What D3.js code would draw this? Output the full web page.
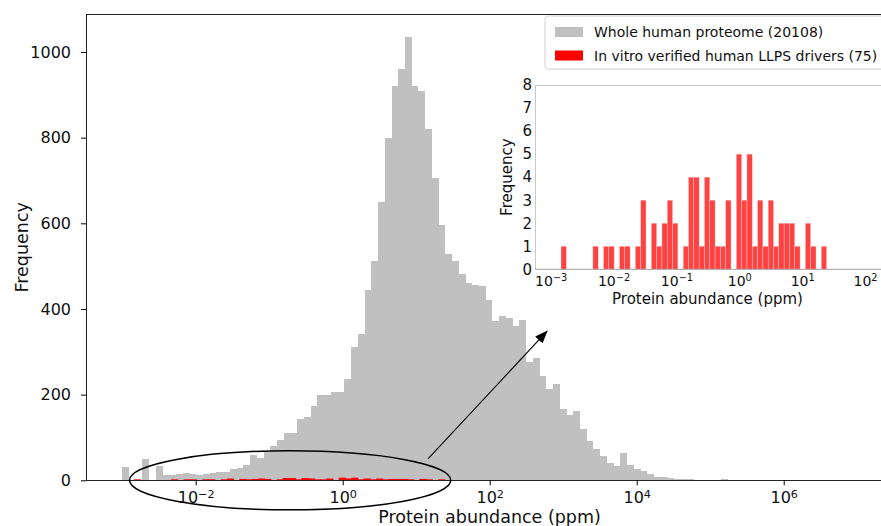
<!DOCTYPE html>
<html>
<head>
<meta charset="utf-8">
<script src="https://cdn.jsdelivr.net/npm/d3@7"></script>
<style>
  body { margin: 0; background: #fff; }
  svg { display: block; font-family: "DejaVu Sans", sans-serif; }
</style>
</head>
<body>
<svg id="chart" width="881" height="526"></svg>
<script>
// Whole proteome histogram: log10 bin start / step and count per bin
const proteomeBinStart = -3.0;
const proteomeBinStep = 0.0916;
const proteomeCounts = [30, 0, 0, 49, 0, 33, 13, 13, 15, 18, 14, 12, 14, 16, 19, 20, 26, 29, 36, 58,
  52, 66, 80, 93, 111, 111, 142, 148, 173, 198, 198, 206, 205, 236, 311, 342, 445, 512, 650, 799,
  920, 961, 1036, 920, 910, 820, 705, 595, 529, 512, 481, 460, 455, 454, 420, 372, 384, 378, 360, 374,
  277, 286, 243, 212, 225, 166, 152, 162, 120, 92, 72, 57, 41, 33, 63, 35, 26, 22, 15, 8,
  8, 5, 4, 2, 2, 1, 1, 1, 0, 2, 0, 0, 1];

// In vitro verified LLPS drivers (75), 50 bins
const llpsBinStart = -2.836;
const llpsBinStep = 0.0845;
const llpsCounts = [1, 0, 0, 0, 0, 0, 1, 0, 1, 1, 0, 1, 1, 0, 1, 3, 0, 2, 1, 2,
  3, 2, 0, 1, 4, 4, 1, 4, 3, 1, 1, 3, 0, 5, 3, 5, 1, 3, 1, 3,
  1, 2, 2, 2, 1, 0, 2, 1, 0, 1];

const mainYTicks = [0, 200, 400, 600, 800, 1000];
const mainXTickExp = [-2, 0, 2, 4, 6];
const insetYTicks = [0, 1, 2, 3, 4, 5, 6, 7, 8];
const insetXTickExp = [-3, -2, -1, 0, 1, 2];
const legendLabels = ['Whole human proteome (20108)', 'In vitro verified human LLPS drivers (75)'];
const colors = { proteome: '#c0c0c0', llps: '#ff0000', llpsInset: '#ff4242' };

// annotation: ellipse around the drivers, arrow to the inset
const ellipseSpan = [-2.9, 1.47];   // log10 abundance
const ellipseHalfHeight = 69;       // frequency units
const arrowFrom = [Math.pow(10, 1.16), 50];
const arrowTo = [Math.pow(10, 2.78), 348];

const toBins = (start, step, counts) => counts.map((n, i) => ({
  x0: Math.pow(10, start + i * step),
  x1: Math.pow(10, start + (i + 1) * step),
  n
}));

const proteomeBins = toBins(proteomeBinStart, proteomeBinStep, proteomeCounts);
const llpsBins = toBins(llpsBinStart, llpsBinStep, llpsCounts);

const svg = d3.select('#chart');
svg.append('rect').attr('width', 881).attr('height', 526).attr('fill', '#fff');

// Main axes
const m = { left: 86, right: 893, top: 14.3, bottom: 480.3 };
const x = d3.scaleLog().domain([Math.pow(10, -3.4925), Math.pow(10, 7.487)]).range([m.left, m.right]);
const y = d3.scaleLinear().domain([0, 1088]).range([m.bottom, m.top]);

function powLabel(sel, e) {
  sel.text(null);
  sel.append('tspan').text('10');
  sel.append('tspan').attr('dy', '-0.48em').attr('font-size', '0.7em')
    .text(e < 0 ? '\u2212' + (-e) : e);
}

const main = svg.append('g');

main.append('g').selectAll('rect')
  .data(proteomeBins.filter(d => d.n > 0))
  .join('rect')
    .attr('x', d => x(d.x0))
    .attr('width', d => x(d.x1) - x(d.x0))
    .attr('y', d => y(d.n))
    .attr('height', d => y(0) - y(d.n))
    .attr('fill', colors.proteome)
    .attr('shape-rendering', 'crispEdges');

main.append('g').selectAll('rect')
  .data(llpsBins.filter(d => d.n > 0))
  .join('rect')
    .attr('x', d => x(d.x0))
    .attr('width', d => x(d.x1) - x(d.x0))
    .attr('y', d => y(d.n))
    .attr('height', d => y(0) - y(d.n))
    .attr('fill', colors.llps)
    .attr('stroke', colors.llps)
    .attr('stroke-width', 1);

// spines
main.append('rect')
  .attr('x', m.left).attr('y', m.top)
  .attr('width', m.right - m.left).attr('height', m.bottom - m.top)
  .attr('fill', 'none').attr('stroke', '#222').attr('stroke-width', 1)
  .attr('shape-rendering', 'crispEdges');

const yAxis = main.append('g')
  .attr('transform', `translate(${m.left},0)`)
  .call(d3.axisLeft(y).tickValues(mainYTicks).tickSize(5).tickPadding(10).tickFormat(d3.format('d')));
yAxis.select('.domain').remove();
yAxis.selectAll('text').attr('font-size', 16).attr('font-family', 'DejaVu Sans').attr('fill', '#111');

const xAxis = main.append('g')
  .attr('transform', `translate(0,${m.bottom})`)
  .call(d3.axisBottom(x).tickValues(mainXTickExp.map(e => Math.pow(10, e))).tickSize(5).tickPadding(3).tickFormat(''));
xAxis.select('.domain').remove();
xAxis.selectAll('.tick text')
  .attr('font-size', 16).attr('font-family', 'DejaVu Sans').attr('fill', '#111')
  .attr('dy', '0.95em')
  .each(function (d) { powLabel(d3.select(this), Math.round(Math.log10(d))); });

main.append('text')
  .attr('x', (m.left + m.right) / 2).attr('y', 523)
  .attr('text-anchor', 'middle').attr('font-size', 17.5).attr('fill', '#111')
  .text('Protein abundance (ppm)');

main.append('text')
  .attr('transform', `translate(28,${(m.top + m.bottom) / 2}) rotate(-90)`)
  .attr('text-anchor', 'middle').attr('font-size', 17.5).attr('fill', '#111')
  .text('Frequency');

// ellipse + arrow
const ex0 = x(Math.pow(10, ellipseSpan[0]));
const ex1 = x(Math.pow(10, ellipseSpan[1]));
main.append('ellipse')
  .attr('cx', (ex0 + ex1) / 2).attr('cy', y(0))
  .attr('rx', (ex1 - ex0) / 2).attr('ry', y(0) - y(ellipseHalfHeight))
  .attr('fill', 'none').attr('stroke', '#000').attr('stroke-width', 1.5);

svg.append('defs').append('marker')
  .attr('id', 'head')
  .attr('viewBox', '0 0 13 10')
  .attr('refX', 12).attr('refY', 5)
  .attr('markerWidth', 13).attr('markerHeight', 10)
  .attr('markerUnits', 'userSpaceOnUse')
  .attr('orient', 'auto')
  .append('path').attr('d', 'M0,0 L13,5 L0,10 Z').attr('fill', '#000');

main.append('line')
  .attr('x1', x(arrowFrom[0])).attr('y1', y(arrowFrom[1]))
  .attr('x2', x(arrowTo[0])).attr('y2', y(arrowTo[1]))
  .attr('stroke', '#000').attr('stroke-width', 1.1)
  .attr('marker-end', 'url(#head)');

// Legend
const legend = svg.append('g');
legend.append('rect')
  .attr('x', 545).attr('y', 16).attr('width', 345).attr('height', 53).attr('rx', 3)
  .attr('fill', '#fff').attr('fill-opacity', 0.85).attr('stroke', '#d0d0d0');
const legendRows = legend.selectAll('g.row')
  .data(legendLabels)
  .join('g')
    .attr('class', 'row')
    .attr('transform', (d, i) => `translate(555,${32 + i * 23.5})`);
legendRows.append('rect')
  .attr('x', 0).attr('y', -5).attr('width', 28).attr('height', 10)
  .attr('fill', (d, i) => i === 0 ? colors.proteome : colors.llps);
legendRows.append('text')
  .attr('x', 39).attr('y', 5)
  .attr('font-size', 14).attr('fill', '#111')
  .text(d => d);

// Inset
const ins = { left: 535, right: 882, top: 85, bottom: 269.3 };
const xi = d3.scaleLog().domain([Math.pow(10, -3.25), Math.pow(10, 2.27)]).range([ins.left, ins.right]);
const yi = d3.scaleLinear().domain([0, 8]).range([ins.bottom, ins.top]);
const inset = svg.append('g');

inset.append('rect')
  .attr('x', ins.left).attr('y', ins.top)
  .attr('width', ins.right - ins.left).attr('height', ins.bottom - ins.top)
  .attr('fill', '#fff').attr('stroke', '#c8c8c8').attr('stroke-width', 1)
  .attr('shape-rendering', 'crispEdges');

inset.append('g').selectAll('rect')
  .data(llpsBins.filter(d => d.n > 0))
  .join('rect')
    .attr('x', d => xi(d.x0))
    .attr('width', d => xi(d.x1) - xi(d.x0))
    .attr('y', d => yi(d.n))
    .attr('height', d => yi(0) - yi(d.n))
    .attr('fill', colors.llpsInset)
    .attr('stroke', '#ffd0d0').attr('stroke-width', 0.4);

inset.append('line')
  .attr('x1', ins.left).attr('x2', ins.right)
  .attr('y1', ins.bottom).attr('y2', ins.bottom)
  .attr('stroke', '#aaa');

const yiAxis = inset.append('g')
  .attr('transform', `translate(${ins.left},0)`)
  .call(d3.axisLeft(yi).tickValues(insetYTicks).tickSize(0).tickPadding(3));
yiAxis.select('.domain').remove();
yiAxis.selectAll('text').attr('font-size', 15).attr('font-family', 'DejaVu Sans').attr('fill', '#111');

const xiAxis = inset.append('g')
  .attr('transform', `translate(0,${ins.bottom})`)
  .call(d3.axisBottom(xi).tickValues(insetXTickExp.map(e => Math.pow(10, e))).tickSize(0).tickPadding(3).tickFormat(''));
xiAxis.select('.domain').remove();
xiAxis.selectAll('.tick text')
  .attr('font-size', 14).attr('font-family', 'DejaVu Sans').attr('fill', '#111')
  .attr('dy', '0.95em')
  .each(function (d) { powLabel(d3.select(this), Math.round(Math.log10(d))); });

inset.append('text')
  .attr('x', (ins.left + 880) / 2).attr('y', 304)
  .attr('text-anchor', 'middle').attr('font-size', 15).attr('fill', '#111')
  .text('Protein abundance (ppm)');

inset.append('text')
  .attr('transform', `translate(512,${(ins.top + ins.bottom) / 2}) rotate(-90)`)
  .attr('text-anchor', 'middle').attr('font-size', 15).attr('fill', '#111')
  .text('Frequency');
</script>
</body>
</html>
